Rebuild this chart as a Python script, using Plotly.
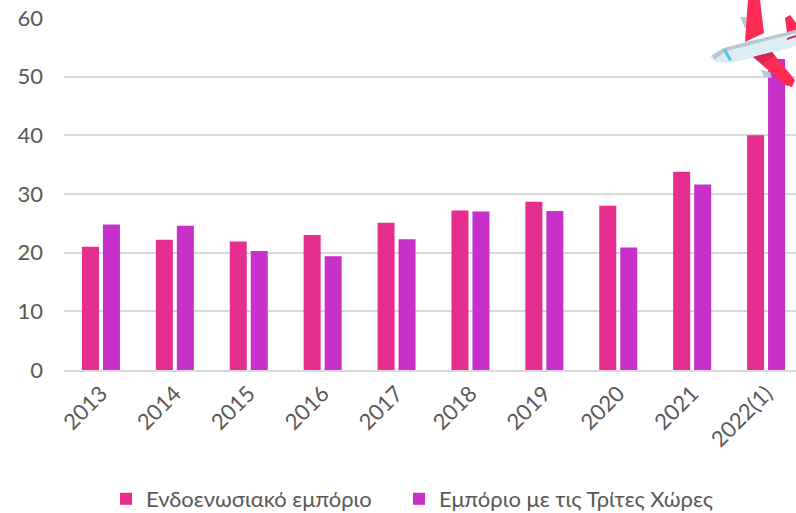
import plotly.graph_objects as go

years = ["2013", "2014", "2015", "2016", "2017", "2018", "2019", "2020", "2021", "2022(1)"]
intra_eu = [21.0, 22.2, 21.9, 23.0, 25.1, 27.2, 28.7, 28.0, 33.8, 40.0]
third_countries = [24.8, 24.6, 20.3, 19.4, 22.3, 27.0, 27.1, 20.9, 31.6, 53.0]
y_ticks = [0, 10, 20, 30, 40, 50, 60]

# Figure is slightly taller than the window so the legend can sit as low as the reference's.
W, H = 796, 520
L, R, T, B = 64, 0, 18, 150
TEXT = "#595959"
GRID = "#d9d9d9"
FONT = "Lato, 'Open Sans', sans-serif"


def px(x, y):
    return (x - L) / (W - L - R), 1 - (y - T) / (H - T - B)


def poly(points, color):
    d = ""
    for i, (x, y) in enumerate(points):
        a, b = px(x, y)
        d += ("M" if i == 0 else "L") + f"{a:.4f},{b:.4f} "
    return dict(type="path", xref="paper", yref="paper", path=d + "Z",
                fillcolor=color, line=dict(width=0), layer="above")


plane = [
    poly([(740, 17), (746, 17), (750, 27), (745, 28)], "#b8c9d0"),
    poly([(761, 70), (770, 72), (772, 78), (764, 77)], "#b8c9d0"),
    poly([(748, 0), (760, 0), (764, 33), (745, 42)], "#fb2a56"),
    poly([(785, 18), (790, 15), (796, 23), (796, 33), (787, 33)], "#fb2a56"),
    poly([(710, 57), (716, 53), (724, 48), (747, 42), (796, 30), (796, 46),
          (757, 57), (730, 63), (716, 62)], "#dcedf5"),
    poly([(712, 55), (724, 48), (747, 42), (796, 30), (796, 33), (750, 45),
          (726, 51), (714, 60)], "#b7c8d0"),
    poly([(723, 50), (726, 49), (732, 60), (729, 61)], "#4fc3f0"),
    poly([(787, 38), (796, 35), (796, 37), (787, 40)], "#d8284e"),
    poly([(753, 57), (772, 52), (795, 80), (792, 87), (785, 85)], "#fb2a56"),
    poly([(753, 57), (772, 52), (775, 56), (763, 63)], "#d8284e"),
]

fig = go.Figure()
fig.add_bar(name="Ενδοενωσιακό εμπόριο", x=years, y=intra_eu, marker_color="#e62e8f",
            marker_line_width=0, legend="legend")
fig.add_bar(name="Εμπόριο με τις Τρίτες Χώρες", x=years, y=third_countries, marker_color="#c730c9",
            marker_line_width=0, legend="legend2")

legend_common = dict(orientation="h", xanchor="left", xref="container",
                     yref="container", y=0, yanchor="bottom",
                     font=dict(size=22, color=TEXT), bgcolor="rgba(0,0,0,0)",
                     itemclick=False, itemdoubleclick=False)

fig.update_layout(
    width=W, height=H, autosize=False,
    margin=dict(l=L, r=R, t=T, b=B, pad=0),
    paper_bgcolor="white", plot_bgcolor="white",
    barmode="group", bargap=0.432, bargroupgap=0.19,
    font=dict(family=FONT, size=22, color=TEXT),
    showlegend=True,
    legend=dict(x=106 / W, **legend_common),
    legend2=dict(x=399 / W, **legend_common),
    shapes=plane,
)
fig.update_xaxes(type="category", categoryorder="array", categoryarray=years,
                 range=[-0.5, 9.405], tickangle=-45, showgrid=False, ticks="",
                 showline=True, linecolor=GRID, linewidth=2, zeroline=False,
                 tickfont=dict(size=22, color=TEXT), automargin=False)
fig.update_yaxes(range=[0, 60], tickvals=y_ticks, gridcolor=GRID, gridwidth=2,
                 showline=False, zeroline=False, ticks="", ticklabelstandoff=20,
                 tickfont=dict(size=22, color=TEXT), automargin=False)

fig.write_html("out.html", config=dict(displayModeBar=False),
               post_script="document.body.style.margin='0';document.documentElement.style.overflow='hidden';")
